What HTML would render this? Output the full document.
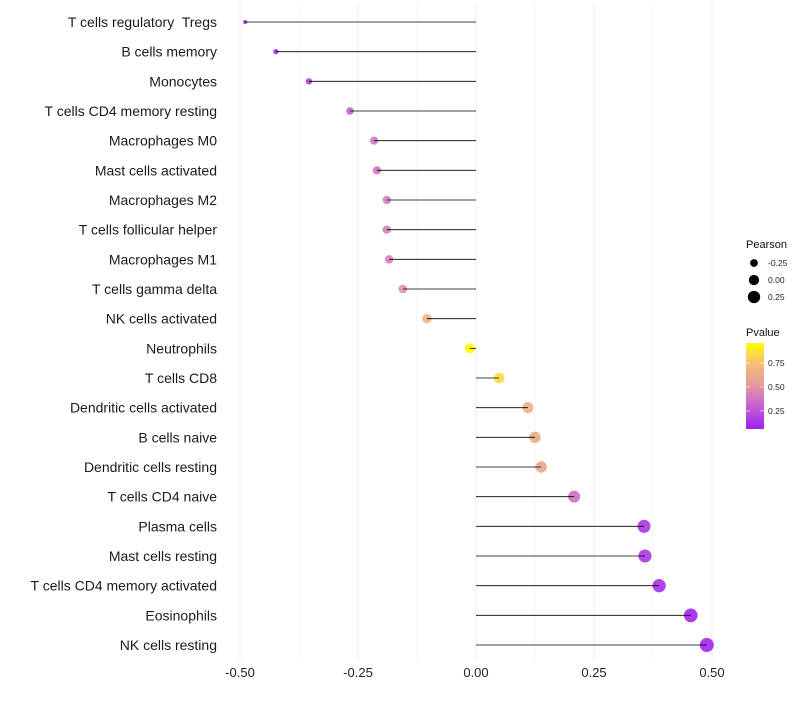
<!DOCTYPE html>
<html><head><meta charset="utf-8"><style>
body{margin:0;background:#fff;font-family:"Liberation Sans",sans-serif}
text{white-space:pre}
</style></head><body>
<svg id="chart" width="800" height="700" xmlns="http://www.w3.org/2000/svg" font-family="Liberation Sans, sans-serif"></svg>
<script>
const cells = ["T cells regulatory  Tregs","B cells memory","Monocytes","T cells CD4 memory resting","Macrophages M0","Mast cells activated","Macrophages M2","T cells follicular helper","Macrophages M1","T cells gamma delta","NK cells activated","Neutrophils","T cells CD8","Dendritic cells activated","B cells naive","Dendritic cells resting","T cells CD4 naive","Plasma cells","Mast cells resting","T cells CD4 memory activated","Eosinophils","NK cells resting"];
const pearson = [-0.489,-0.424,-0.354,-0.267,-0.216,-0.210,-0.189,-0.189,-0.184,-0.155,-0.104,-0.013,0.049,0.110,0.125,0.138,0.208,0.356,0.358,0.388,0.455,0.489];
const pvalue = [0.06,0.10,0.18,0.30,0.38,0.38,0.42,0.42,0.43,0.50,0.68,0.96,0.85,0.66,0.62,0.58,0.35,0.14,0.14,0.12,0.08,0.07];
const xTicks = [-0.5,-0.25,0,0.25,0.5];
const xTickLabels = ["-0.50","-0.25","0.00","0.25","0.50"];
const sizeLegend = [-0.25,0,0.25];
const sizeLegendLabels = ["-0.25","0.00","0.25"];
const colorTicks = [0.25,0.5,0.75];
const colorTickLabels = ["0.25","0.50","0.75"];

const NS="http://www.w3.org/2000/svg";
const svg=document.getElementById('chart');
function mk(tag,attrs,parent){const e=document.createElementNS(NS,tag);for(const k in attrs)e.setAttribute(k,attrs[k]);(parent||svg).appendChild(e);return e;}
const x=v=>476+v*472;
const y=i=>22+i*(623/21);
const rad=p=>Math.sqrt(Math.max(3.5,26.5+45.9*p));
const stops=[[0.06,[160,32,240]],[0.35,[205,110,200]],[0.55,[230,160,150]],[0.75,[245,190,120]],[0.96,[255,255,0]]];
function col(p){if(p<=stops[0][0])return `rgb(${stops[0][1]})`;for(let i=1;i<stops.length;i++){if(p<=stops[i][0]){const a=stops[i-1],b=stops[i],t=(p-a[0])/(b[0]-a[0]);return `rgb(${a[1].map((c,k)=>Math.round(c+(b[1][k]-c)*t)).join(',')})`;}}return `rgb(${stops[stops.length-1][1]})`;}

for(let v=-0.5;v<=0.5001;v+=0.125){
  const g=mk('line',{x1:x(v),x2:x(v),y1:5,y2:660,stroke:Math.abs((v*4)%1)<1e-6?'#ebebeb':'#f4f4f4','stroke-width':1});
  
  
}
xTicks.forEach((v,i)=>{
  const t=mk('text',{x:x(v),y:677,'text-anchor':'middle','font-size':13,fill:'#222'});
  t.textContent=xTickLabels[i];
  
  
});
cells.forEach((c,i)=>{
  const t=mk('text',{x:217,y:y(i)+5,'text-anchor':'end','font-size':14,fill:'#1a1a1a'});
  t.textContent=c;
  
  
  const pt=mk('circle',{cx:x(pearson[i]),cy:y(i),r:rad(pearson[i]),fill:col(pvalue[i]),'fill-opacity':0.9});
  
  
  const s=mk('line',{x1:x(0),x2:x(pearson[i]),y1:y(i),y2:y(i),stroke:'#000','stroke-width':0.8});
  
  
});
const lt=mk('text',{x:746,y:248,'font-size':11,fill:'#111'});lt.textContent='Pearson';


sizeLegend.forEach((p,i)=>{
  const cy=263+i*17;
  const c=mk('circle',{cx:754,cy:cy,r:rad(p),fill:'#000'});
  
  
  const t=mk('text',{x:768,y:cy+3,'font-size':8.5,fill:'#222'});t.textContent=sizeLegendLabels[i];
  
  
});
const ct=mk('text',{x:746,y:336,'font-size':11,fill:'#111'});ct.textContent='Pvalue';


const defs=mk('defs',{});const lg=mk('linearGradient',{id:'pg',x1:0,y1:1,x2:0,y2:0},defs);
stops.forEach(s=>mk('stop',{offset:(s[0]-0.06)/0.9,'stop-color':`rgb(${s[1]})`},lg));
const cb=mk('rect',{x:746,y:343,width:18,height:86,fill:'url(#pg)'});


const cby=p=>429-(p-0.06)/0.9*86;
colorTicks.forEach((p,i)=>{
  mk('line',{x1:746,x2:750,y1:cby(p),y2:cby(p),stroke:'#fff','stroke-opacity':0.6});
  mk('line',{x1:760,x2:764,y1:cby(p),y2:cby(p),stroke:'#fff','stroke-opacity':0.6});
  const t=mk('text',{x:768,y:cby(p)+3,'font-size':8.5,fill:'#222'});t.textContent=colorTickLabels[i];
  
  
});
</script>
</body></html>
